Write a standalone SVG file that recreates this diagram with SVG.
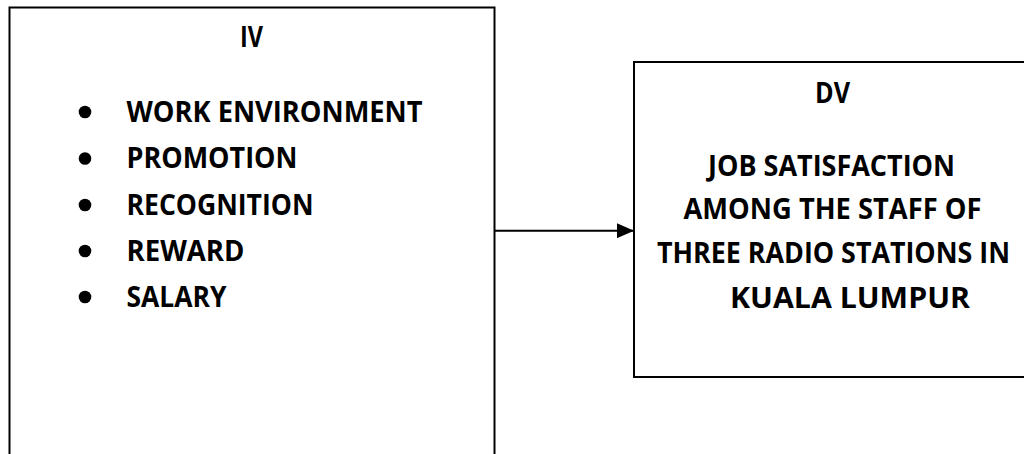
<svg xmlns="http://www.w3.org/2000/svg" width="1024" height="454" viewBox="0 0 1024 454">
<defs>
<style>
.box{fill:#fff;stroke:#000;stroke-width:2}
.t{font-family:"Open Sans","Liberation Sans",sans-serif;font-weight:bold;font-size:29px;fill:#000}
.m{text-anchor:middle}
.conn{stroke:#000;stroke-width:2;fill:none}
</style>
<marker id="arr" markerWidth="17" markerHeight="15" refX="17" refY="7.5" orient="auto" markerUnits="userSpaceOnUse" viewBox="0 0 17 15">
<path d="M0,0 L17,7.5 L0,15 Z" fill="#000"/>
</marker>
</defs>
<rect width="1024" height="454" fill="#fff"/>
<g id="iv">
<rect class="box" x="9.5" y="7.5" width="485" height="460"/>
<text class="t m" x="251.5" y="47" textLength="23" lengthAdjust="spacingAndGlyphs">IV</text>
<circle cx="85" cy="112" r="6.3"/>
<circle cx="85" cy="158.5" r="6.3"/>
<circle cx="85" cy="205" r="6.3"/>
<circle cx="85" cy="251" r="6.3"/>
<circle cx="85" cy="297" r="6.3"/>
<text class="t" x="126.5" y="121.7" textLength="296" lengthAdjust="spacingAndGlyphs">WORK ENVIRONMENT</text>
<text class="t" x="126.5" y="168.3" textLength="171" lengthAdjust="spacingAndGlyphs">PROMOTION</text>
<text class="t" x="126.5" y="215" textLength="187" lengthAdjust="spacingAndGlyphs">RECOGNITION</text>
<text class="t" x="126.5" y="260.7" textLength="118" lengthAdjust="spacingAndGlyphs">REWARD</text>
<text class="t" x="126.5" y="306.7" textLength="100" lengthAdjust="spacingAndGlyphs">SALARY</text>
</g>
<g id="dv">
<rect class="box" x="634" y="62" width="420" height="315"/>
<text class="t m" x="832.5" y="102.7" textLength="35" lengthAdjust="spacingAndGlyphs">DV</text>
<text class="t m" x="831.5" y="176" textLength="247" lengthAdjust="spacingAndGlyphs">JOB SATISFACTION</text>
<text class="t m" x="832.5" y="219" textLength="298" lengthAdjust="spacingAndGlyphs">AMONG THE STAFF OF</text>
<text class="t m" x="833.5" y="263.3" textLength="353" lengthAdjust="spacingAndGlyphs">THREE RADIO STATIONS IN</text>
<text class="t m" x="850" y="308.3" textLength="240" lengthAdjust="spacingAndGlyphs">KUALA LUMPUR</text>
</g>
<g id="connectors">
<line class="conn" x1="495" y1="230.7" x2="634" y2="230.7" marker-end="url(#arr)"/>
</g>
</svg>
